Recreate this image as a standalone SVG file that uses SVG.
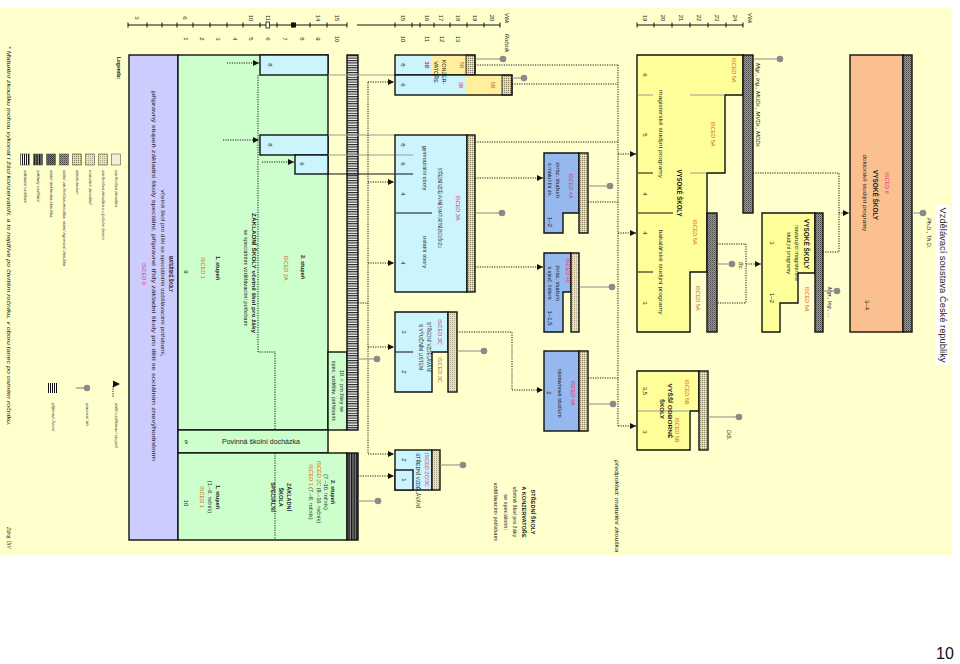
<svg xmlns="http://www.w3.org/2000/svg" width="960" height="664" viewBox="0 0 960 664">
<defs>
<style>
.t{font-family:"Liberation Sans",Arial,sans-serif;font-size:5.5px;fill:#1a1a1a;text-anchor:middle}
.st{text-anchor:start}
.i{font-style:italic}
.b{font-weight:bold}
.n{font-size:6px}
.lg{font-size:4.3px;fill:#333}
.big{font-size:6.6px;font-weight:bold}
.red{fill:#e2336b}
.org{fill:#d0681a}
.box{stroke:#111;stroke-width:1.4}
.ln{stroke:#111;stroke-width:1;fill:none}
.gl{stroke:#9a9a9a;stroke-width:1;fill:none}
.dot{stroke:#1a1a1a;stroke-width:1;stroke-dasharray:1.2 1.2;fill:none}
.pt{stroke:#8a8a8a;stroke-width:1.2;fill:none}
.pd{fill:#8a8a8a}
.cy{fill:#ccf4fc}
.mb{fill:#95b8ee}
.ye{fill:#ffff99}
.ky{fill:#ffef9f}
.gr{fill:#ccffcc}
.pu{fill:#ccccff}
.sa{fill:#fac090}
</style>
<pattern id="pMat" width="2" height="2" patternUnits="userSpaceOnUse"><rect width="2" height="2" fill="#d9d2a6"/><rect width="1" height="1" fill="#8c8463"/><rect x="1" y="1" width="1" height="1" fill="#eee8c8"/></pattern>
<pattern id="pLt" width="2" height="2" patternUnits="userSpaceOnUse"><rect width="2" height="2" fill="#e6e0bc"/><rect width="1" height="1" fill="#b0a888"/></pattern>
<pattern id="pDark" width="2" height="2" patternUnits="userSpaceOnUse"><rect width="2" height="2" fill="#9a9a9a"/><rect width="1" height="1" fill="#4a4a4a"/><rect x="1" y="1" width="1" height="1" fill="#6a6a6a"/></pattern>
<pattern id="pDark2" width="2" height="2" patternUnits="userSpaceOnUse"><rect width="2" height="2" fill="#777"/><rect width="1" height="1" fill="#333"/><rect x="1" y="1" width="1" height="1" fill="#444"/></pattern>
<pattern id="pZV" width="3" height="2.4" patternUnits="userSpaceOnUse"><rect width="3" height="2.4" fill="#f4f4f4"/><rect width="3" height="1.1" fill="#222"/></pattern>
<pattern id="pZS" width="2.6" height="3" patternUnits="userSpaceOnUse"><rect width="2.6" height="3" fill="#8a8a8a"/><rect width="1.3" height="3" fill="#111"/></pattern>
<pattern id="pPR" width="2" height="3" patternUnits="userSpaceOnUse"><rect width="2" height="3" fill="#fff"/><rect width="1" height="3" fill="#111"/></pattern>
<marker id="ah" viewBox="0 0 8 8" refX="8" refY="4" markerWidth="7" markerHeight="6" orient="auto" markerUnits="userSpaceOnUse"><path d="M0,0L8,4L0,8z" fill="#111"/></marker>
</defs>

<rect x="0" y="8" width="952" height="547" fill="#ffffcc"/>

<g id="timeline">
<path class="ln" d="M128 25H347M128 22.5v5M147 22.5v5M162 22.5v5M177 22.5v5M193 22.5v5M210 22.5v5M227 22.5v5M243 22.5v5M260 22.5v5M277 22.5v5M293 22.5v5M310 22.5v5M327 22.5v5M347 22.5v5"/>
<rect x="266" y="22" width="3.5" height="6" fill="#fff" stroke="#111" stroke-width="0.8"/>
<rect x="291" y="22.5" width="5" height="5" fill="#111"/>
<path class="ln" d="M357 25H500M395 22.5v5M412 22.5v5M420 22.5v5M434 22.5v5M450 22.5v5M467 22.5v5M484 22.5v5M500 22.5v5"/>
<path class="ln" d="M637 25H743M637 22.5v5M654 22.5v5M672 22.5v5M690 22.5v5M708 22.5v5M726 22.5v5M743 22.5v5"/>
<g class="t n">
<text transform="translate(135 18) rotate(90)">3</text>
<text transform="translate(183 18) rotate(90)">6</text>
<text transform="translate(249 18) rotate(90)">10</text>
<text transform="translate(266 18) rotate(90)">11</text>
<text transform="translate(316 18) rotate(90)">14</text>
<text transform="translate(335 18) rotate(90)">15</text>
<text transform="translate(184 39) rotate(90)">1</text>
<text transform="translate(200 39) rotate(90)">2</text>
<text transform="translate(216 39) rotate(90)">3</text>
<text transform="translate(233 39) rotate(90)">4</text>
<text transform="translate(249 39) rotate(90)">5</text>
<text transform="translate(266 39) rotate(90)">6</text>
<text transform="translate(283 39) rotate(90)">7</text>
<text transform="translate(300 39) rotate(90)">8</text>
<text transform="translate(316 39) rotate(90)">9</text>
<text transform="translate(335 39) rotate(90)">10</text>
<text transform="translate(401 18) rotate(90)">15</text>
<text transform="translate(425 18) rotate(90)">16</text>
<text transform="translate(439 18) rotate(90)">17</text>
<text transform="translate(456 18) rotate(90)">18</text>
<text transform="translate(473 18) rotate(90)">19</text>
<text transform="translate(490 18) rotate(90)">20</text>
<text class="i" transform="translate(505 18) rotate(90)">Věk</text>
<text transform="translate(401 39) rotate(90)">10</text>
<text transform="translate(425 39) rotate(90)">11</text>
<text transform="translate(440 39) rotate(90)">12</text>
<text transform="translate(456 39) rotate(90)">13</text>
<text class="i" transform="translate(505 43) rotate(90)">Ročník</text>
<text transform="translate(643 18) rotate(90)">19</text>
<text transform="translate(661 18) rotate(90)">20</text>
<text transform="translate(679 18) rotate(90)">21</text>
<text transform="translate(697 18) rotate(90)">22</text>
<text transform="translate(715 18) rotate(90)">23</text>
<text transform="translate(733 18) rotate(90)">24</text>
<text class="i" transform="translate(748 18) rotate(90)">Věk</text>
</g>
</g>

<g id="legend">
<text class="t st b" style="font-size:5px" transform="translate(116.5 57) rotate(90)">Legenda:</text>
<rect x="111.5" y="154" width="9" height="11" fill="#f3efd3" stroke="#555" stroke-width="0.6"/>
<rect x="98.5" y="154" width="9" height="11" fill="url(#pLt)" stroke="#555" stroke-width="0.6"/>
<rect x="85.5" y="154" width="9" height="11" fill="url(#pLt)" stroke="#555" stroke-width="0.6"/>
<rect x="72.5" y="154" width="9" height="11" fill="url(#pMat)" stroke="#555" stroke-width="0.6"/>
<rect x="59.5" y="154" width="9" height="11" fill="url(#pDark)" stroke="#555" stroke-width="0.6"/>
<rect x="46.5" y="154" width="9" height="11" fill="url(#pDark2)" stroke="#555" stroke-width="0.6"/>
<rect x="33.5" y="154" width="9" height="11" fill="url(#pZS)" stroke="#555" stroke-width="0.6"/>
<rect x="20.5" y="154" width="9" height="11" fill="url(#pPR)" stroke="#555" stroke-width="0.6"/>
<g class="t st lg i">
<text transform="translate(114.5 170) rotate(90)">závěrečná zkouška</text>
<text transform="translate(101.5 170) rotate(90)">závěrečná zkouška s výučním listem</text>
<text transform="translate(88.5 170) rotate(90)">maturitní zkouška*</text>
<text transform="translate(75.5 170) rotate(90)">absolutorium</text>
<text transform="translate(62.5 170) rotate(90)">státní závěrečná zkouška, státní rigorózní zkouška</text>
<text transform="translate(49.5 170) rotate(90)">státní doktorská zkouška</text>
<text transform="translate(36.5 170) rotate(90)">základy vzdělání</text>
<text transform="translate(23.5 170) rotate(90)">základní vzdělání</text>
<text transform="translate(114.5 403) rotate(90)">další vzdělávací stupeň</text>
<text transform="translate(85.5 403) rotate(90)">pracovní trh</text>
<text transform="translate(51.5 403) rotate(90)">přijímací řízení</text>
</g>
<path class="dot" d="M113 386V398"/>
<path d="M113 380.5L120 384L113 387.5z" fill="#111"/>
<path class="pt" d="M76 388H84"/>
<circle class="pd" cx="87" cy="388" r="3.2"/>
<rect x="47" y="383" width="11" height="10" fill="url(#pPR)"/>
<text class="t st i" style="font-size:4.8px" transform="translate(6.5 46) rotate(90)" textLength="380" lengthAdjust="spacingAndGlyphs">* Maturitní zkoušku mohou vykonat i žáci konzervatoří, a to nejdříve po čtvrtém ročníku, v oboru tanec po osmém ročníku.</text>
<text class="t st i" style="font-size:4.8px" transform="translate(6.5 527) rotate(90)">Zdroj: ÚIV</text>
</g>

<g id="node-materske-skoly">
<rect class="box pu" x="129" y="55" width="49" height="485"/>
<text class="t b" style="font-size:5.8px" transform="translate(168.5 274) rotate(90)" textLength="36" lengthAdjust="spacingAndGlyphs">MATEŘSKÉ ŠKOLY</text>
<text class="t" transform="translate(160.5 273) rotate(90)" textLength="167" lengthAdjust="spacingAndGlyphs">včetně škol pro děti se speciálními vzdělávacími potřebami,</text>
<text class="t" transform="translate(151.5 276) rotate(90)" textLength="370" lengthAdjust="spacingAndGlyphs">přípravný stupeň základní školy speciální, přípravné třídy základní školy pro děti se sociálním znevýhodněním</text>
<text class="t red" transform="translate(142 274) rotate(90)">ISCED 0</text>
</g>

<g id="node-zakladni-skoly">
<rect class="box gr" x="178" y="55" width="150" height="375"/>
<path class="dot" d="M258 75V352H275V430"/>
<rect class="box cy" x="260" y="55" width="68" height="20"/>
<rect class="box cy" x="260" y="135" width="68" height="20"/>
<rect class="box cy" x="295" y="155" width="33" height="19"/>
<rect class="box gr" x="328" y="352" width="19" height="78"/>
<rect class="box" x="347" y="55" width="11" height="375" fill="url(#pZV)"/>
<g class="t">
<text class="n" transform="translate(268 65) rotate(90)">8</text>
<text class="n" transform="translate(268 145) rotate(90)">8</text>
<text class="n" transform="translate(300 164) rotate(90)">6</text>
<text class="b" transform="translate(252 273) rotate(90)" textLength="120" lengthAdjust="spacingAndGlyphs">ZÁKLADNÍ ŠKOLY včetně škol pro žáky</text>
<text transform="translate(244 278) rotate(90)" textLength="97" lengthAdjust="spacingAndGlyphs">se speciálními vzdělávacími potřebami</text>
<text class="b" transform="translate(301 267) rotate(90)">2. stupeň</text>
<text class="org" transform="translate(284 268) rotate(90)">ISCED 2A</text>
<text class="b" transform="translate(216 268) rotate(90)">1. stupeň</text>
<text class="org" transform="translate(201 268) rotate(90)">ISCED 1</text>
<text class="n" transform="translate(184 272) rotate(90)">9</text>
<text transform="translate(340 391) rotate(90)">10. r. pro žáky se</text>
<text transform="translate(332 391) rotate(90)">spec. vzděláv. potřebami</text>
</g>
</g>

<g id="node-povinna-dochazka">
<rect class="box gr" x="178" y="430" width="150" height="23"/>
<text class="t" style="font-size:5.8px" x="186" y="443.5">9</text>
<text class="t" style="font-size:6.3px" x="261" y="443.5" textLength="78" lengthAdjust="spacingAndGlyphs">Povinná školní docházka</text>
</g>

<g id="node-zakladni-skola-specialni">
<rect class="box gr" x="178" y="453" width="169" height="87"/>
<path class="dot" d="M275 453V540"/>
<rect class="box" x="347" y="453" width="11" height="87" fill="url(#pZS)"/>
<g class="t">
<text class="b" transform="translate(331 492) rotate(90)">2. stupeň</text>
<text transform="translate(324 492) rotate(90)">(7.–10. ročník)</text>
<text transform="translate(317 492) rotate(90)"><tspan class="org">ISCED 2C</tspan> (9.–10. ročník)</text>
<text transform="translate(309 492) rotate(90)"><tspan class="org">ISCED 1</tspan> (7.–8. ročník)</text>
<text class="b" transform="translate(287 497) rotate(90)">ZÁKLADNÍ</text>
<text class="b" transform="translate(279 497) rotate(90)">ŠKOLA</text>
<text class="b" transform="translate(271 497) rotate(90)">SPECIÁLNÍ</text>
<text class="b" transform="translate(216 497) rotate(90)">1. stupeň</text>
<text transform="translate(208 497) rotate(90)">(1.–6. ročník)</text>
<text class="org" transform="translate(200 497) rotate(90)">ISCED 1</text>
<text class="n" transform="translate(184 503) rotate(90)">10</text>
</g>
</g>

<g id="node-konzervatore">
<path class="gl" d="M328 75H395"/>
<rect class="cy" x="395" y="55" width="37" height="20"/>
<rect class="ky" x="432" y="55" width="34" height="20"/>
<rect x="466" y="55" width="9" height="20" fill="url(#pMat)" stroke="#111" stroke-width="0.8"/>
<rect class="box" x="395" y="55" width="80" height="20" fill="none"/>
<rect class="cy" x="395" y="75" width="71" height="20"/>
<rect class="ky" x="466" y="75" width="36" height="20"/>
<rect x="502" y="75" width="10" height="20" fill="url(#pMat)" stroke="#111" stroke-width="0.8"/>
<rect class="box" x="395" y="75" width="117" height="20" fill="none"/>
<g class="t">
<text class="n" transform="translate(401 65) rotate(90)">8</text>
<text class="red b" transform="translate(425 65) rotate(90)">3B</text>
<text class="org" transform="translate(460 65) rotate(90)">5B</text>
<text class="n" transform="translate(401 85) rotate(90)">6</text>
<text class="red" transform="translate(459 85) rotate(90)">3B</text>
<text class="org" transform="translate(491 85) rotate(90)">5B</text>
<text transform="translate(442 72) rotate(90)">KONZER-</text>
<text transform="translate(434 72) rotate(90)">VATOŘE</text>
</g>
</g>

<g id="node-gymnazium">
<path class="gl" d="M328 135H395M328 155H413"/>
<path class="ln" d="M328 174H413M395 213H432"/>
<rect class="box cy" x="395" y="135" width="72" height="157"/>
<rect class="box" x="467" y="135" width="8" height="157" fill="url(#pMat)"/>
<path class="gl" d="M396 155H413"/>
<path class="ln" d="M396 174H413M396 213H432"/>
<g class="t">
<text class="n" transform="translate(401 145) rotate(90)">8</text>
<text class="n" transform="translate(401 164) rotate(90)">6</text>
<text class="n" transform="translate(401 194) rotate(90)">4</text>
<text class="n" transform="translate(401 263) rotate(90)">4</text>
<text class="red" transform="translate(456 208) rotate(90)">ISCED 3A</text>
<text transform="translate(438 208) rotate(90)" textLength="80" lengthAdjust="spacingAndGlyphs">STŘEDNÍ VZDĚLÁVÁNÍ S MATURITNÍ ZKOUŠKOU</text>
<text transform="translate(423 168) rotate(90)">gymnaziální obory</text>
<text transform="translate(423 252) rotate(90)">ostatní obory</text>
</g>
</g>

<g id="node-stredni-vyucni-list">
<path class="box cy" d="M395 312H448V352H432V392H395Z"/>
<rect class="box" x="448" y="312" width="9" height="80" fill="url(#pLt)"/>
<path class="ln" d="M395 352H413"/>
<g class="t">
<text class="red" transform="translate(438 332) rotate(90)">ISCED 3C</text>
<text transform="translate(427 347) rotate(90)" textLength="50" lengthAdjust="spacingAndGlyphs">STŘEDNÍ VZDĚLÁVÁNÍ</text>
<text transform="translate(419 347) rotate(90)" textLength="46" lengthAdjust="spacingAndGlyphs">S VÝUČNÍM LISTEM</text>
<text class="org" transform="translate(438 370) rotate(90)">ISCED 3C</text>
<text class="n" transform="translate(402 332) rotate(90)">3</text>
<text class="n" transform="translate(402 372) rotate(90)">2</text>
</g>
</g>

<g id="node-stredni-vzdelavani">
<rect class="box cy" x="395" y="450" width="37" height="40"/>
<rect class="box" x="432" y="450" width="8" height="40" fill="url(#pLt)"/>
<rect class="box cy" x="395" y="470" width="18" height="20"/>
<g class="t">
<text class="n" transform="translate(402 460) rotate(90)">2</text>
<text class="n" transform="translate(402 480) rotate(90)">1</text>
<text class="st red" transform="translate(425 453) rotate(90)">ISCED 2C/3C</text>
<text class="st" transform="translate(416 453) rotate(90)" textLength="55" lengthAdjust="spacingAndGlyphs">STŘEDNÍ VZDĚLÁVÁNÍ</text>
</g>
</g>

<g id="node-stredni-skoly-popis">
<g class="t" style="font-size:5.6px">
<text class="b" transform="translate(531 512) rotate(90)">STŘEDNÍ ŠKOLY</text>
<text class="b" transform="translate(522 512) rotate(90)">A KONZERVATOŘE</text>
<text transform="translate(513 512) rotate(90)">včetně škol pro žáky</text>
<text transform="translate(504 512) rotate(90)">se speciálními</text>
<text transform="translate(494 512) rotate(90)">vzdělávacími potřebami</text>
</g>
<text class="t i" transform="translate(615 506) rotate(90)" textLength="92" lengthAdjust="spacingAndGlyphs">předpoklad: maturitní zkouška</text>
</g>

<g id="node-zkracene-maturita">
<path class="box mb" d="M544 153H579V213H563V233H544Z"/>
<rect class="box" x="579" y="153" width="9" height="80" fill="url(#pMat)"/>
<g class="t">
<text class="red" transform="translate(569 186) rotate(90)">ISCED 4A</text>
<text transform="translate(556 180) rotate(90)">zkrác. studium</text>
<text transform="translate(548 180) rotate(90)">s maturitní zk.</text>
<text class="n" transform="translate(548 222) rotate(90)">1–2</text>
</g>
</g>

<g id="node-zkracene-vyucni">
<path class="box mb" d="M544 253H571V292H563V332H544Z"/>
<rect class="box" x="571" y="253" width="8" height="79" fill="url(#pLt)"/>
<g class="t">
<text class="red" transform="translate(566 271) rotate(90)">ISCED 4C</text>
<text transform="translate(556 283) rotate(90)">zkrác. studium</text>
<text transform="translate(548 283) rotate(90)">s výuč. listem</text>
<text class="n" transform="translate(548 318) rotate(90)">1–1,5</text>
</g>
</g>

<g id="node-nastavbove">
<rect class="box mb" x="544" y="351" width="35" height="80"/>
<rect class="box" x="579" y="351" width="9" height="80" fill="url(#pMat)"/>
<g class="t">
<text class="red" transform="translate(571 393) rotate(90)">ISCED 4A</text>
<text transform="translate(558 393) rotate(90)">nástavbové studium</text>
<text class="n" transform="translate(547 393) rotate(90)">2</text>
</g>
</g>

<g id="node-vysoke-skoly">
<path class="box ye" d="M637 55H743V95H725V173H707V272H690V332H637Z"/>
<rect class="box" x="743" y="55" width="10" height="158" fill="url(#pDark)"/>
<rect class="box" x="707" y="213" width="10" height="119" fill="url(#pDark)"/>
<path class="gl" d="M638 95H653M690 95H724M690 173H706"/>
<path class="ln" d="M638 173H653M638 213H673M638 272H653"/>
<g class="t">
<text class="org" transform="translate(732 70) rotate(90)">ISCED 5A</text>
<text class="n" transform="translate(643 75) rotate(90)">6</text>
<text class="n" transform="translate(643 135) rotate(90)">5</text>
<text class="n" transform="translate(643 194) rotate(90)">4</text>
<text class="n" transform="translate(643 233) rotate(90)">4</text>
<text class="n" transform="translate(643 303) rotate(90)">3</text>
<text transform="translate(659 134) rotate(90)" textLength="88" lengthAdjust="spacingAndGlyphs">magisterské studijní programy</text>
<text class="org" transform="translate(711 134) rotate(90)">ISCED 5A</text>
<text class="big" transform="translate(677 193) rotate(90)" textLength="47" lengthAdjust="spacingAndGlyphs">VYSOKÉ ŠKOLY</text>
<text transform="translate(659 272) rotate(90)" textLength="85" lengthAdjust="spacingAndGlyphs">bakalářské studijní programy</text>
<text class="org" transform="translate(693 232) rotate(90)">ISCED 5A</text>
<text class="org" transform="translate(696 298) rotate(90)">ISCED 5A</text>
<text class="st i" transform="translate(756 63) rotate(90)" textLength="85" lengthAdjust="spacingAndGlyphs">Mgr., Ing., MUDr., MVDr., MDDr.</text>
<text class="i" transform="translate(739 266) rotate(90)">Bc.</text>
</g>
</g>

<g id="node-navazujici">
<path class="box ye" d="M762 213H815V273H798V303H780V332H762Z"/>
<rect class="box" x="815" y="213" width="8" height="119" fill="url(#pDark)"/>
<g class="t">
<text class="big" transform="translate(804 244) rotate(90)" textLength="50" lengthAdjust="spacingAndGlyphs">VYSOKÉ ŠKOLY</text>
<text transform="translate(795 253) rotate(90)">navazující magisterské</text>
<text transform="translate(787 253) rotate(90)">studijní programy</text>
<text class="n" transform="translate(770 243) rotate(90)">3</text>
<text class="n" transform="translate(770 298) rotate(90)">1–2</text>
<text class="org" transform="translate(805 299) rotate(90)">ISCED 5A</text>
<text class="st i" transform="translate(828 287) rotate(90)">Mgr., Ing., ...</text>
</g>
</g>

<g id="node-doktorske">
<rect class="box sa" x="850" y="55" width="53" height="277"/>
<rect class="box" x="903" y="55" width="9" height="277" fill="url(#pDark)"/>
<g class="t">
<text class="red" transform="translate(885 183) rotate(90)">ISCED 6</text>
<text class="big" transform="translate(873 195) rotate(90)" textLength="50" lengthAdjust="spacingAndGlyphs">VYSOKÉ ŠKOLY</text>
<text transform="translate(863 193) rotate(90)" textLength="77" lengthAdjust="spacingAndGlyphs">doktorské studijní programy</text>
<text class="n" transform="translate(865 305) rotate(90)">3–4</text>
<text class="st i" transform="translate(927 218) rotate(90)">Ph.D., Th.D.</text>
</g>
</g>

<g id="node-vos">
<path class="box ye" d="M637 371H699V411H690V450H637Z"/>
<rect class="box" x="699" y="371" width="9" height="79" fill="url(#pMat)"/>
<path class="gl" d="M638 411H690"/>
<g class="t">
<text class="org" transform="translate(685 392) rotate(90)">ISCED 5B</text>
<text class="b" style="font-size:6px" transform="translate(668 411) rotate(90)" textLength="55" lengthAdjust="spacingAndGlyphs">VYŠŠÍ ODBORNÉ</text>
<text class="b" style="font-size:6px" transform="translate(660 409) rotate(90)">ŠKOLY</text>
<text class="n" transform="translate(643 391) rotate(90)">3,5</text>
<text class="n" transform="translate(643 432) rotate(90)">3</text>
<text class="org" transform="translate(675 430) rotate(90)">ISCED 5B</text>
<text class="i" transform="translate(727 435) rotate(90)">DiS.</text>
</g>
</g>

<g id="connectors">
<path class="dot" d="M368 82V454M358 303H368"/>
<path class="dot" marker-end="url(#ah)" d="M368 82H394"/>
<path class="dot" marker-end="url(#ah)" d="M368 182H394"/>
<path class="dot" marker-end="url(#ah)" d="M368 263H394"/>
<path class="dot" marker-end="url(#ah)" d="M368 347H394"/>
<path class="dot" marker-end="url(#ah)" d="M368 454H394"/>
<path class="dot" marker-end="url(#ah)" d="M358 476H394"/>
<path class="dot" marker-end="url(#ah)" d="M227 63H259"/>
<path class="dot" marker-end="url(#ah)" d="M223 140H259"/>
<path class="dot" marker-end="url(#ah)" d="M262 162H294"/>
<path class="dot" marker-end="url(#ah)" d="M475 178H543"/>
<path class="dot" marker-end="url(#ah)" d="M475 267H543"/>
<path class="dot" marker-end="url(#ah)" d="M457 332H512V390H543"/>
<path class="dot" d="M475 65H618M512 84H618M475 142H618M588 202H618M588 378H618M618 65V426"/>
<path class="dot" marker-end="url(#ah)" d="M618 154H636"/>
<path class="dot" marker-end="url(#ah)" d="M618 233H636"/>
<path class="dot" marker-end="url(#ah)" d="M618 426H636"/>
<path class="dot" d="M753 173H839V252H823"/>
<path class="dot" marker-end="url(#ah)" d="M839 213H849"/>
<path class="dot" d="M717 244H746V303H717"/>
<path class="dot" marker-end="url(#ah)" d="M746 264H761"/>
<path class="pt" d="M475 59H500M512 78H521M475 213H499M588 186H607M579 287H609M588 404H610M457 351H481M440 465H460M358 359H374M358 501H375M753 59H777M717 264H729M823 291H834M912 213H920M708 417H736"/>
<g class="pd">
<circle cx="503" cy="59" r="3.3"/>
<circle cx="524" cy="78" r="3.3"/>
<circle cx="502" cy="213" r="3.3"/>
<circle cx="610" cy="186" r="3.3"/>
<circle cx="612" cy="287" r="3.3"/>
<circle cx="613" cy="404" r="3.3"/>
<circle cx="484" cy="351" r="3.3"/>
<circle cx="463" cy="465" r="3.3"/>
<circle cx="377" cy="359" r="3.3"/>
<circle cx="378" cy="501" r="3.3"/>
<circle cx="780" cy="59" r="3.3"/>
<circle cx="732" cy="264" r="3.3"/>
<circle cx="837" cy="291" r="3.3"/>
<circle cx="923" cy="213" r="3.3"/>
<circle cx="739" cy="417" r="3.3"/>
</g>
</g>

<g id="title">
<rect x="936" y="205" width="14" height="160" fill="#fff"/>
<text class="t" style="font-size:9.5px;fill:#222" transform="translate(939.5 285) rotate(90)" textLength="155" lengthAdjust="spacingAndGlyphs">Vzdělávací soustava České republiky</text>
<text x="945" y="659" style="font-family:'Liberation Sans',Arial,sans-serif;font-size:16px;fill:#111;text-anchor:middle">10</text>
</g>
</svg>
